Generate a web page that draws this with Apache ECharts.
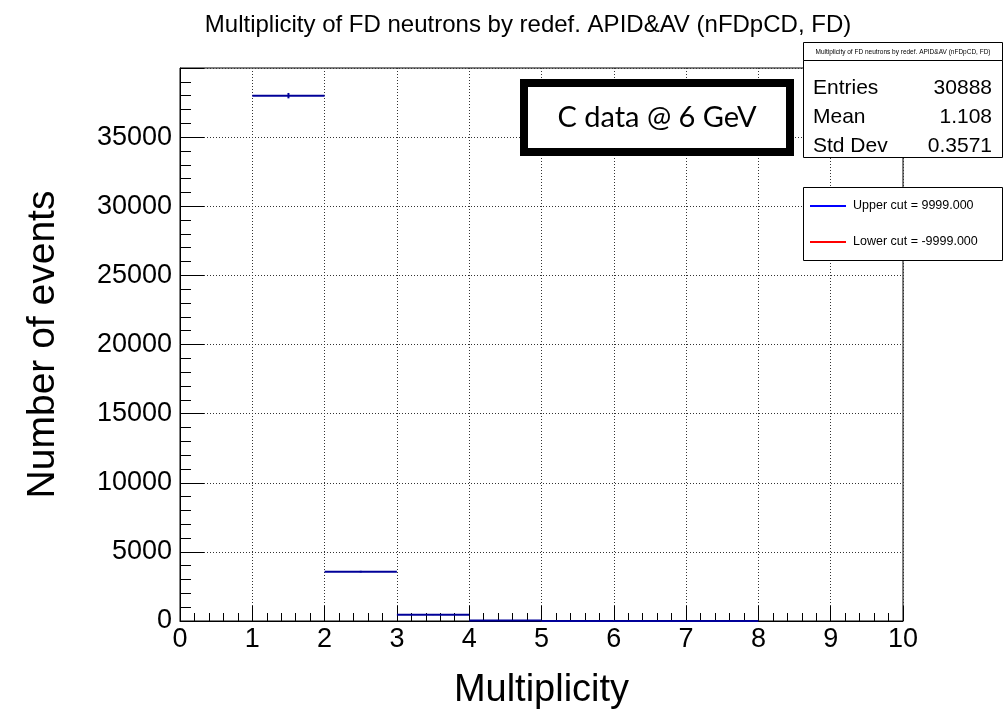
<!DOCTYPE html>
<html>
<head>
<meta charset="utf-8">
<script src="https://cdn.jsdelivr.net/npm/echarts@6/dist/echarts.min.js"></script>
<style>html,body{margin:0;padding:0;background:#fff;}#c{width:1004px;height:710px;}</style>
</head>
<body>
<div id="c"></div>
<script>
// ---- data ----
var binLow   = [1, 2, 3, 4, 5, 6, 7];
var binHigh  = [2, 3, 4, 5, 6, 7, 8];
var counts   = [38000, 3570, 450, 30, 5, 2, 1];
var errors   = [195, 60, 21, 5, 2, 1.4, 1];
var xTicks   = [0,1,2,3,4,5,6,7,8,9,10];
var yTicks   = [0,5000,10000,15000,20000,25000,30000,35000];
var titleText = 'Multiplicity of FD neutrons by redef. APID&AV (nFDpCD, FD)';
var statsLabels = ['Entries', 'Mean', 'Std Dev'];
var statsValues = ['30888', '1.108', '0.3571'];
var legendNames = ['Upper cut = 9999.000', 'Lower cut = -9999.000'];
var legendColors = ['#0000ff', '#ff0000'];
var annotation = 'C data @ 6 GeV';

var histData = binLow.map(function(l, i){ return [l, binHigh[i], counts[i], errors[i]]; });

var FONT = '"Liberation Sans", Arial, Helvetica, sans-serif';
var chart = echarts.init(document.getElementById('c'), null, {renderer:'canvas'});

var graphics = [
  // annotation box
  {type:'rect', z:100, shape:{x:524, y:83, width:266, height:69},
   style:{fill:'#fff', stroke:'#000', lineWidth:8}},
  {type:'text', z:101, x:657, y:118,
   style:{text:annotation, font:'29px Lato, "Open Sans", sans-serif', fill:'#000', align:'center', verticalAlign:'middle'}},
  // stats box
  {type:'rect', z:100, shape:{x:803.5, y:42.5, width:199, height:18},
   style:{fill:'#fff', stroke:'#000', lineWidth:1}},
  {type:'text', z:101, x:903, y:52,
   style:{text:titleText, font:'6.5px ' + FONT, fill:'#000', align:'center', verticalAlign:'middle'}},
  {type:'rect', z:100, shape:{x:803.5, y:60.5, width:199, height:97},
   style:{fill:'#fff', stroke:'#000', lineWidth:1}},
  // legend box
  {type:'rect', z:100, shape:{x:803.5, y:187.5, width:199, height:73},
   style:{fill:'#fff', stroke:'#000', lineWidth:1}}
];
statsLabels.forEach(function(lab, i){
  var y = 88 + i*29;
  graphics.push({type:'text', z:101, x:813, y:y,
    style:{text:lab, font:'21px ' + FONT, fill:'#000', align:'left', verticalAlign:'middle'}});
  graphics.push({type:'text', z:101, x:992, y:y,
    style:{text:statsValues[i], font:'21px ' + FONT, fill:'#000', align:'right', verticalAlign:'middle'}});
});
legendNames.forEach(function(n, i){
  var y = 206 + i*36;
  graphics.push({type:'line', z:101, shape:{x1:810, y1:y, x2:846, y2:y},
    style:{stroke:legendColors[i], lineWidth:2}});
  graphics.push({type:'text', z:101, x:853, y:y,
    style:{text:n, font:'12.5px ' + FONT, fill:'#000', align:'left', verticalAlign:'middle'}});
});

var option = {
  backgroundColor:'#fff',
  animation:false,
  title:{text:titleText, left:523, top:8, textAlign:'center',
    textStyle:{fontFamily:FONT, fontSize:24, fontWeight:'normal', color:'#000'}},
  grid:{left:180, right:101, top:68, bottom:89, outerBoundsMode:'none', containLabel:false,
    show:true, borderColor:'#000', borderWidth:1, backgroundColor:'#fff'},
  xAxis:{type:'value', min:0, max:10, interval:1,
    name:'Multiplicity', nameLocation:'middle', nameGap:51,
    nameTextStyle:{fontFamily:FONT, fontSize:38, color:'#000'},
    axisLine:{show:true, lineStyle:{color:'#000', width:1}},
    axisTick:{show:true, inside:true, length:15, lineStyle:{color:'#000'}},
    minorTick:{show:true, splitNumber:5, length:8, lineStyle:{color:'#000'}},
    axisLabel:{fontFamily:FONT, fontSize:27, color:'#000', margin:5,
      formatter:function(v){ return xTicks.indexOf(v) >= 0 ? String(v) : ''; }},
    splitLine:{show:true, lineStyle:{color:'#333', type:[1,2], width:1}}
  },
  yAxis:{type:'value', min:0, max:40000, interval:5000,
    name:'Number of events', nameLocation:'middle', nameGap:117, nameRotate:90,
    nameTextStyle:{fontFamily:FONT, fontSize:39, color:'#000'},
    axisLine:{show:true, lineStyle:{color:'#000', width:1}},
    axisTick:{show:true, inside:true, length:24, lineStyle:{color:'#000'}},
    minorTick:{show:true, splitNumber:5, length:11, lineStyle:{color:'#000'}},
    axisLabel:{fontFamily:FONT, fontSize:27, color:'#000', margin:8,
      formatter:function(v){ return yTicks.indexOf(v) >= 0 ? String(v) : ''; }},
    splitLine:{show:true, lineStyle:{color:'#333', type:[1,2], width:1}}
  },
  series:[{
    type:'custom',
    data:histData,
    encode:{x:[0,1], y:[2]},
    clip:false,
    z:10,
    renderItem:function(params, api){
      var x0 = api.value(0), x1 = api.value(1), v = api.value(2), e = api.value(3);
      var p0 = api.coord([x0, v]), p1 = api.coord([x1, v]);
      var xm = (x0 + x1) / 2;
      var pt = api.coord([xm, v + e]), pb = api.coord([xm, v - e]);
      return {type:'group', children:[
        {type:'line', shape:{x1:p0[0], y1:p0[1], x2:p1[0], y2:p1[1]}, style:{stroke:'#000099', lineWidth:2}},
        {type:'line', shape:{x1:pt[0], y1:pt[1], x2:pb[0], y2:pb[1]}, style:{stroke:'#000099', lineWidth:2}}
      ]};
    }
  }],
  graphic:graphics
};
chart.setOption(option);
</script>
</body>
</html>
